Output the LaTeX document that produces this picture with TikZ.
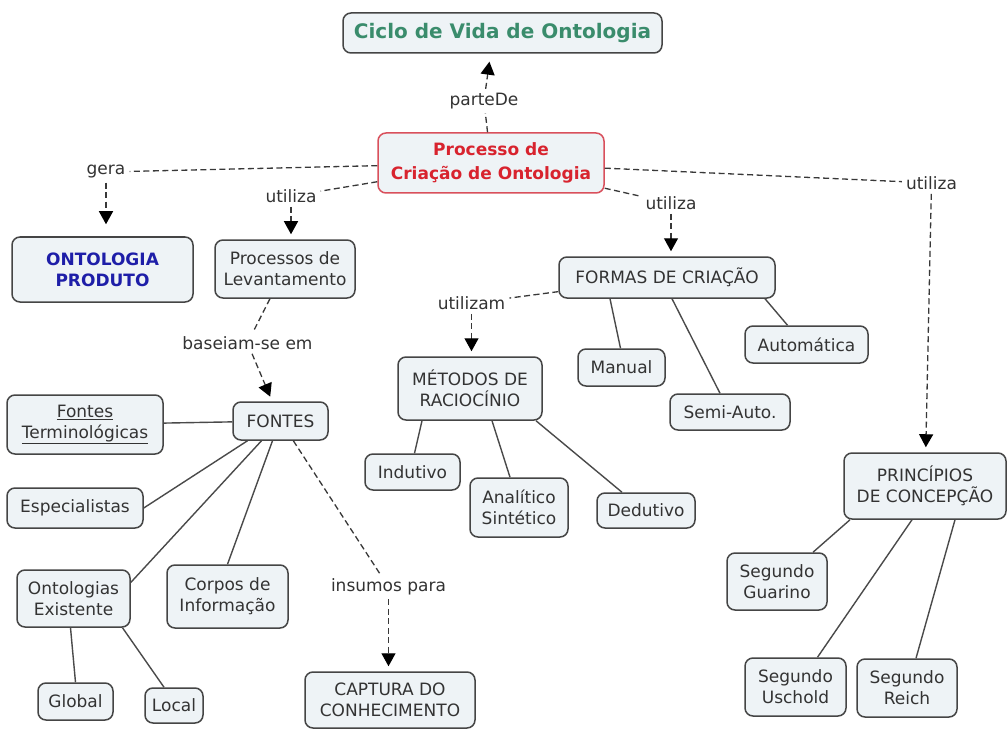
\documentclass[tikz,border=0pt]{standalone}
\usepackage{fontspec}
\setmainfont{DejaVu Sans}
\usetikzlibrary{arrows.meta}
\definecolor{boxfill}{HTML}{EEF3F6}
\definecolor{boxdraw}{HTML}{454545}
\definecolor{txt}{HTML}{333333}
\definecolor{ttlgreen}{HTML}{3A8C6C}
\definecolor{procred}{HTML}{D8232E}
\definecolor{procborder}{HTML}{D9505C}
\definecolor{prodblue}{HTML}{1E1EA8}
\definecolor{linecol}{HTML}{4A4A4A}
\definecolor{dashcol}{HTML}{383838}
\begin{document}
\begin{tikzpicture}[x=1pt,y=-1pt,
  cbox/.style={draw=boxdraw, fill=boxfill, rounded corners=8pt, line width=1.5pt,
    text=txt, align=center, inner sep=0pt, font=\fontsize{17}{21}\selectfont},
  sz/.style n args={2}{minimum width=#1pt, minimum height=#2pt},
  lphrase/.style={text=txt, inner sep=4pt, font=\fontsize{17}{21}\selectfont},
  dline/.style={draw=dashcol, line width=1.3pt, dash pattern=on 6pt off 3.5pt},
  darrow/.style={dline, -{Triangle[length=13pt,width=14pt,fill=black,color=black]}, shorten >=5pt},
  sline/.style={draw=linecol, line width=1.4pt},
]
\useasboundingbox (0,0) rectangle (1008,735);
\fill[white] (0,0) rectangle (1008,735);

% boxes
\node[cbox, sz={319}{40}, text=ttlgreen, font=\fontsize{20}{24}\selectfont\bfseries] (ciclo) at (502.5,33) {Ciclo de Vida de Ontologia};
\node[cbox, sz={226}{60}, draw=procborder, text=procred, font=\fontsize{17}{24}\selectfont\bfseries] (proc) at (491,163) {Processo de\\Criação de Ontologia};
\node[cbox, sz={181}{65}, text=prodblue, font=\fontsize{17}{21}\selectfont\bfseries] (ontprod) at (102.5,269.5) {ONTOLOGIA\\PRODUTO};
\node[cbox, sz={140}{58}] (lev) at (285,269) {Processos de\\Levantamento};
\node[cbox, sz={95}{38}] (fontes) at (280.5,421) {FONTES};
\node[cbox, sz={156}{59}] (ft) at (85,424.5) {\underline{Fontes}\\\underline{Terminológicas}};
\node[cbox, sz={136}{40}] (esp) at (75,508) {Especialistas};
\node[cbox, sz={113}{57}] (onto) at (73.5,598.5) {Ontologias\\Existente};
\node[cbox, sz={121}{63}] (corpos) at (227.5,596.5) {Corpos de\\Informação};
\node[cbox, sz={75}{37}] (global) at (75.5,701.5) {Global};
\node[cbox, sz={58}{35}] (local) at (174,705.5) {Local};
\node[cbox, sz={170}{56}] (captura) at (390,700) {CAPTURA DO\\CONHECIMENTO};
\node[cbox, sz={144}{63}] (met) at (470,388.5) {MÉTODOS DE\\RACIOCÍNIO};
\node[cbox, sz={95}{36}] (indutivo) at (412.5,472) {Indutivo};
\node[cbox, sz={98}{59}] (anal) at (519,507.5) {Analítico\\Sintético};
\node[cbox, sz={98}{35}] (dedutivo) at (646,510.5) {Dedutivo};
\node[cbox, sz={87}{37}] (manual) at (621.5,367.5) {Manual};
\node[cbox, sz={120}{36}] (semi) at (730,412) {Semi-Auto.};
\node[cbox, sz={123}{37}] (auto) at (806.5,344.5) {Automática};
\node[cbox, sz={216}{41}] (formas) at (667,277.5) {FORMAS DE CRIAÇÃO};
\node[cbox, sz={162}{66}] (pri) at (925,486) {PRINCÍPIOS\\DE CONCEPÇÃO};
\node[cbox, sz={100}{57}] (guar) at (777,581.5) {Segundo\\Guarino};
\node[cbox, sz={101}{58}] (usch) at (795.5,687) {Segundo\\Uschold};
\node[cbox, sz={100}{58}] (reich) at (907,688) {Segundo\\Reich};

% linking phrases
\node[lphrase] (parte) at (484,101) {parteDe};
\node[lphrase] (gera) at (106,172) {gera};
\node[lphrase] (ut1) at (291,196) {utiliza};
\node[lphrase] (ut2) at (671,203) {utiliza};
\node[lphrase] (ut3) at (931.5,183) {utiliza};
\node[lphrase] (base) at (247.5,343) {baseiam-se em};
\node[lphrase] (utz) at (471.5,303) {utilizam};
\node[lphrase] (ins) at (388.5,587) {insumos para};

% dashed connectors
\draw[dline] (proc) -- (parte);
\draw[darrow, shorten >=8pt] (parte) -- ([xshift=-12pt]ciclo.south);
\draw[dline] (proc) -- (gera);
\draw[darrow, shorten >=12pt] (gera) -- (gera |- ontprod.north);
\draw[dline] (proc) -- (ut1);
\draw[darrow] (ut1) -- (ut1 |- lev.north);
\draw[dline] (proc) -- (ut2);
\draw[darrow] (ut2) -- (ut2 |- formas.north);
\draw[dline] (proc) -- (ut3);
\draw[darrow] (ut3) -- (pri);
\draw[dline] (lev) -- (base);
\draw[darrow] (base) -- (fontes);
\draw[dline] (formas) -- (utz);
\draw[darrow] (utz) -- (utz |- met.north);
\draw[dline] (fontes) -- (ins);
\draw[darrow] (ins) -- (ins |- captura.north);

% solid connectors
\draw[sline] (fontes) -- (ft);
\draw[sline] ([xshift=-33pt]fontes.south) -- (esp.east);
\draw[sline] ([xshift=-19pt]fontes.south) -- ([yshift=16pt]onto.east);
\draw[sline] ([xshift=-8pt]fontes.south) -- (corpos.north);
\draw[sline] ([xshift=-3pt]onto.south) -- (global.north);
\draw[sline] ([xshift=49pt]onto.south) -- ([xshift=-10pt]local.north);
\draw[sline] ([xshift=-48pt]met.south) -- ([xshift=2pt]indutivo.north);
\draw[sline] ([xshift=22pt]met.south) -- ([xshift=-9pt]anal.north);
\draw[sline] ([xshift=66pt]met.south) -- ([xshift=-24pt]dedutivo.north);
\draw[sline] ([xshift=-57pt]formas.south) -- ([xshift=-1pt]manual.north);
\draw[sline] ([xshift=5pt]formas.south) -- ([xshift=-10pt]semi.north);
\draw[sline] ([xshift=98pt]formas.south) -- ([xshift=-19pt]auto.north);
\draw[sline] ([xshift=-75pt]pri.south) -- ([xshift=36pt]guar.north);
\draw[sline] ([xshift=-13pt]pri.south) -- ([xshift=22pt]usch.north);
\draw[sline] ([xshift=30pt]pri.south) -- ([xshift=9pt]reich.north);
\end{tikzpicture}
\end{document}
